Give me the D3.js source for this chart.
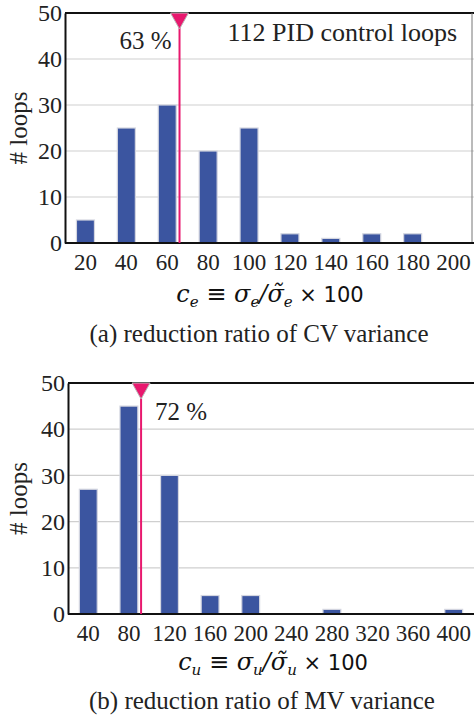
<!DOCTYPE html>
<html>
<head>
<meta charset="utf-8">
<script src="https://cdn.jsdelivr.net/npm/d3@7"></script>
<style>
  body { margin: 0; background: #fff; }
  svg { display: block; }
</style>
</head>
<body>
<svg id="fig" width="474" height="717" font-family="'Liberation Serif', 'Times New Roman', serif"></svg>
<script>
// ---- data ----
var ceLabels = ["20", "40", "60", "80", "100", "120", "140", "160", "180", "200"];
var ceCounts = [5, 25, 30, 20, 25, 2, 1, 2, 2, 0];
var cuLabels = ["40", "80", "120", "160", "200", "240", "280", "320", "360", "400"];
var cuCounts = [27, 45, 30, 4, 4, 0, 1, 0, 0, 1];
var yTicks = [0, 10, 20, 30, 40, 50];
var ceMarker = 66, ceMarkerText = "63 %";
var cuMarker = 92, cuMarkerText = "72 %";

var svg = d3.select("#fig");
var serif = "'Liberation Serif', 'Times New Roman', serif";
var barColor = "#3b55a0";
var markColor = "#e8186e";
var textColor = "#222";

function drawHist(opt) {
    var g = svg.append("g");

    var x = d3.scaleBand()
        .domain(opt.labels)
        .range([opt.left, opt.right])
        .paddingInner(0.56)
        .paddingOuter(0.28);
    var y = d3.scaleLinear().domain([0, 50]).range([opt.bottom, opt.top]);

    // marker position on a value axis running through the band centres
    var n = opt.labels.length;
    var xv = d3.scaleLinear()
        .domain([+opt.labels[0], +opt.labels[n - 1]])
        .range([x(opt.labels[0]) + x.bandwidth() / 2,
                x(opt.labels[n - 1]) + x.bandwidth() / 2]);

    // grid
    g.selectAll(".grid")
        .data(yTicks.filter(function (d) { return d > 0 && d < 50; }))
        .enter().append("line")
        .attr("x1", opt.left).attr("x2", opt.right)
        .attr("y1", function (d) { return y(d); })
        .attr("y2", function (d) { return y(d); })
        .attr("stroke", "#cfcfcf").attr("stroke-width", 1.2);

    // bars
    g.selectAll(".bar")
        .data(opt.counts)
        .enter().append("rect")
        .attr("x", function (d, i) { return x(opt.labels[i]); })
        .attr("width", x.bandwidth())
        .attr("y", function (d) { return y(d); })
        .attr("height", function (d) { return opt.bottom - y(d); })
        .attr("fill", barColor)
        .attr("stroke", "#d4d6e0")
        .attr("stroke-width", 1.2)
        .attr("display", function (d) { return d > 0 ? null : "none"; });

    // frame
    g.append("line").attr("x1", opt.left).attr("x2", opt.right)
        .attr("y1", opt.top).attr("y2", opt.top)
        .attr("stroke", "#111").attr("stroke-width", 2);
    if (opt.rightFrame) {
        g.append("line").attr("x1", opt.right - 2).attr("x2", opt.right - 2)
            .attr("y1", opt.top).attr("y2", opt.bottom)
            .attr("stroke", "#777").attr("stroke-width", 1);
    }

    // axes
    var ay = g.append("g")
        .attr("transform", "translate(" + opt.left + ",0)")
        .call(d3.axisLeft(y).tickValues(yTicks).tickSize(0).tickPadding(3))
        .attr("font-family", serif).attr("font-size", 24);
    ay.select(".domain").attr("stroke", "#111").attr("stroke-width", 2);
    ay.selectAll("text").attr("fill", textColor);

    var ax = g.append("g")
        .attr("transform", "translate(0," + opt.bottom + ")")
        .call(d3.axisBottom(x).tickSize(0).tickPadding(11))
        .attr("font-family", serif).attr("font-size", 23);
    ax.select(".domain").attr("d", "M" + opt.left + ",0H" + opt.right)
        .attr("stroke", "#111").attr("stroke-width", 2);
    ax.selectAll("text").attr("fill", textColor);

    // y title
    g.append("text")
        .attr("transform", "translate(" + 27 + "," + (opt.top + opt.bottom) / 2 + ") rotate(-90)")
        .attr("text-anchor", "middle")
        .attr("font-size", 25).attr("fill", textColor)
        .text("# loops");

    // marker line + triangle
    var mx = xv(opt.marker);
    g.append("line")
        .attr("x1", mx).attr("x2", mx)
        .attr("y1", opt.top + 12).attr("y2", opt.bottom)
        .attr("stroke", markColor).attr("stroke-width", 2);
    g.append("path")
        .attr("d", "M" + (mx - 9) + "," + opt.top + "L" + (mx + 9) + "," + opt.top + "L" + mx + "," + (opt.top + 16) + "Z")
        .attr("fill", markColor).attr("stroke", "#b8b8b8").attr("stroke-width", 1);

    g.append("text")
        .attr("x", opt.markerSide < 0 ? mx - 8 : mx + 14)
        .attr("y", opt.markerY)
        .attr("text-anchor", opt.markerSide < 0 ? "end" : "start")
        .attr("font-size", 25).attr("fill", textColor)
        .text(opt.markerText);

    // x title (math)
    var t = g.append("text")
        .attr("x", opt.titleX).attr("y", opt.titleY)
        .attr("text-anchor", "middle")
        .attr("font-size", 24).attr("fill", "#111");
    var s = opt.sub;
    function it(txt, size, dy) {
        var sp = t.append("tspan").attr("font-style", "italic")
            .attr("font-family", "'DejaVu Serif', serif").text(txt);
        if (size) sp.attr("font-size", size);
        if (dy) sp.attr("dy", dy);
        return sp;
    }
    it("c");
    it(s, 15, 5);
    t.append("tspan").attr("dy", -5).attr("font-family", "'DejaVu Sans', sans-serif").text(" \u2261 ");
    it("\u03c3");
    it(s, 15, 5);
    it("/\u03c3\u0303", null, -5);
    it(s, 15, 5);
    t.append("tspan").attr("dy", -5).attr("font-family", "'DejaVu Sans', sans-serif")
        .attr("font-size", 21).text(" \u00d7 100");

    // caption
    g.append("text")
        .attr("x", opt.capX).attr("y", opt.capY)
        .attr("text-anchor", "middle")
        .attr("font-size", 25).attr("fill", textColor)
        .text(opt.caption);

    return g;
}

var ga = drawHist({
    labels: ceLabels, counts: ceCounts,
    left: 65, right: 474, top: 13, bottom: 243,
    marker: ceMarker, markerText: ceMarkerText, markerSide: -1, markerY: 49,
    sub: "e", titleX: 270, titleY: 302,
    caption: "(a) reduction ratio of CV variance", capX: 259, capY: 342,
    rightFrame: true
});
ga.append("text")
    .attr("x", 457).attr("y", 41)
    .attr("text-anchor", "end")
    .attr("font-size", 26).attr("fill", textColor)
    .text("112 PID control loops");

drawHist({
    labels: cuLabels, counts: cuCounts,
    left: 68, right: 474, top: 383, bottom: 614,
    marker: cuMarker, markerText: cuMarkerText, markerSide: 1, markerY: 420,
    sub: "u", titleX: 273, titleY: 670,
    caption: "(b) reduction ratio of MV variance", capX: 262, capY: 709,
    rightFrame: false
});
</script>
</body>
</html>
